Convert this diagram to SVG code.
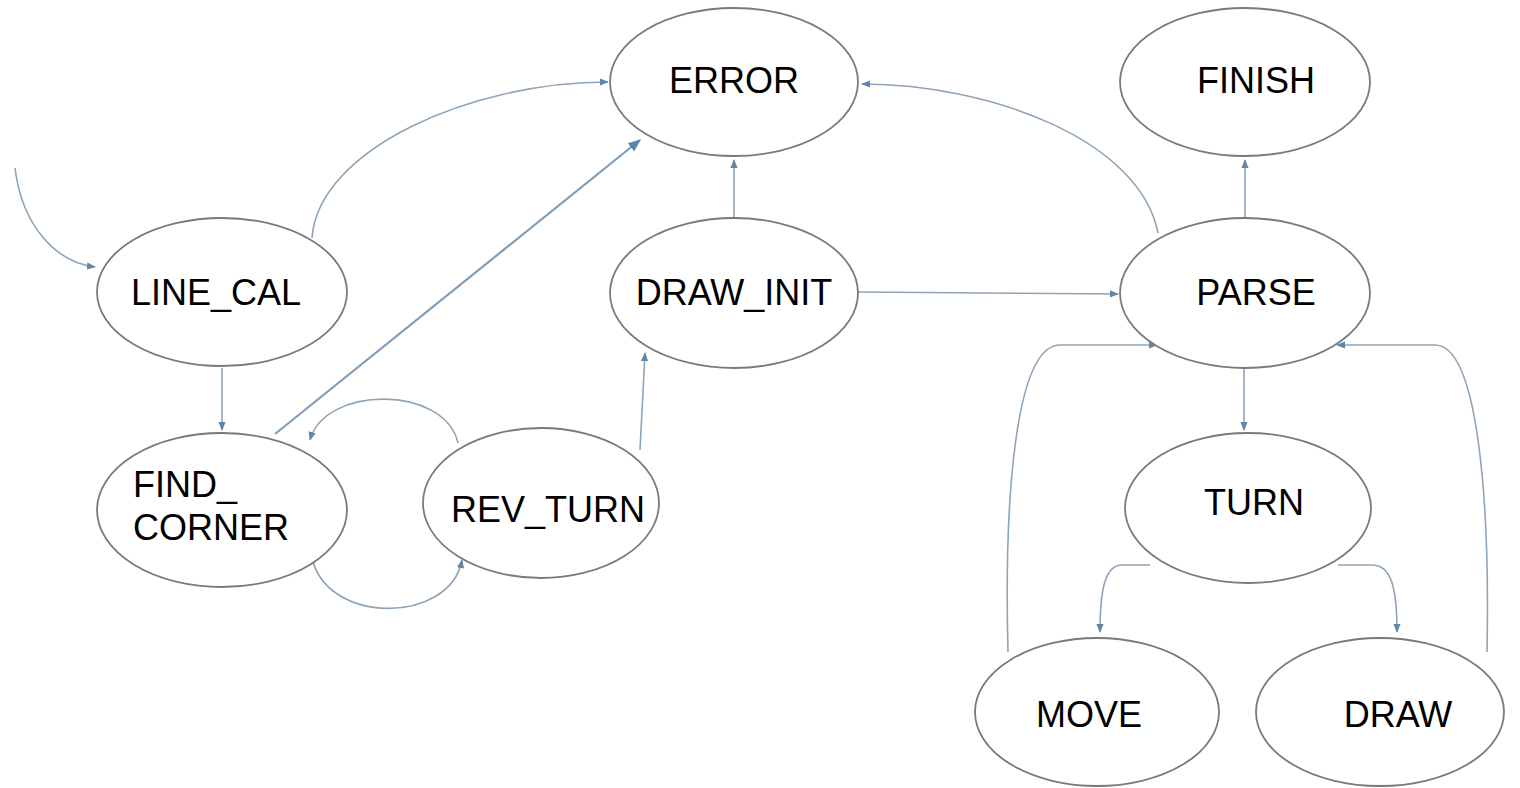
<svg xmlns="http://www.w3.org/2000/svg" width="1520" height="788" viewBox="0 0 1520 788">
<style>
.node ellipse{fill:#ffffff;stroke:#7a7a7a;stroke-width:1.8}
.node text{font-family:"Liberation Sans",Arial,sans-serif;font-size:36px;fill:#000}
.conn path{fill:none;stroke:#8ea4b8;stroke-width:1.6}
</style>
<defs>
<marker id="ah" viewBox="0 0 10 10" refX="9" refY="5" markerWidth="9" markerHeight="9" markerUnits="userSpaceOnUse" orient="auto">
<path d="M0,1 L10,5 L0,9 z" fill="#5f86a8"/>
</marker>
<marker id="ahb" viewBox="0 0 10 10" refX="9" refY="5" markerWidth="13" markerHeight="13" markerUnits="userSpaceOnUse" orient="auto">
<path d="M0,1 L10,5 L0,9 z" fill="#5f86a8"/>
</marker>
</defs>
<rect width="1520" height="788" fill="#ffffff"/>
<g class="conn">
<path d="M15 168 C22 225 55 262 95 267" marker-end="url(#ah)"/>
<path d="M312 238 C318 150 470 82 608 82" marker-end="url(#ah)"/>
<path d="M275 434 L640 140" style="stroke:#7f9db8;stroke-width:2.2" marker-end="url(#ahb)"/>
<path d="M222 368 L222 430" marker-end="url(#ah)"/>
<path d="M458 443 C445 385 325 385 310 440" marker-end="url(#ah)"/>
<path d="M312 557 C325 625 450 625 462 560" marker-end="url(#ah)"/>
<path d="M640 450 L645 353" marker-end="url(#ah)"/>
<path d="M734 218 L734 160" marker-end="url(#ah)"/>
<path d="M858 292 L1118 294" marker-end="url(#ah)"/>
<path d="M1158 233 C1140 140 990 84 862 84" marker-end="url(#ah)"/>
<path d="M1245 218 L1245 160" marker-end="url(#ah)"/>
<path d="M1244 368 L1244 430" marker-end="url(#ah)"/>
<path d="M1150 565 L1122 565 C1105 565 1100 590 1100 632" marker-end="url(#ah)"/>
<path d="M1338 565 L1372 565 C1392 565 1397 590 1397 632" marker-end="url(#ah)"/>
<path d="M1008 652 C1004 500 1015 345 1060 345 L1157 345" marker-end="url(#ah)"/>
<path d="M1487 652 C1490 500 1478 345 1435 345 L1337 345" marker-end="url(#ah)"/>
</g>
<g id="ERROR" class="node"><ellipse cx="734" cy="82" rx="124" ry="74"/><text x="734" y="93" text-anchor="middle">ERROR</text></g>
<g id="FINISH" class="node"><ellipse cx="1245" cy="82" rx="125" ry="74"/><text x="1256" y="93" text-anchor="middle">FINISH</text></g>
<g id="LINE_CAL" class="node"><ellipse cx="222" cy="292" rx="125" ry="74"/><text x="216" y="305" text-anchor="middle">LINE_CAL</text></g>
<g id="DRAW_INIT" class="node"><ellipse cx="734" cy="293" rx="124" ry="75"/><text x="734" y="305" text-anchor="middle">DRAW_INIT</text></g>
<g id="PARSE" class="node"><ellipse cx="1245" cy="293" rx="125" ry="75"/><text x="1256" y="305" text-anchor="middle">PARSE</text></g>
<g id="FIND_CORNER" class="node"><ellipse cx="222" cy="510" rx="125" ry="77"/><text x="133" y="497">FIND_</text><text x="133" y="540">CORNER</text></g>
<g id="REV_TURN" class="node"><ellipse cx="541" cy="503" rx="118" ry="75"/><text x="548" y="522" text-anchor="middle">REV_TURN</text></g>
<g id="TURN" class="node"><ellipse cx="1248" cy="508" rx="123" ry="75"/><text x="1254" y="515" text-anchor="middle">TURN</text></g>
<g id="MOVE" class="node"><ellipse cx="1097" cy="712" rx="122" ry="74"/><text x="1089" y="727" text-anchor="middle">MOVE</text></g>
<g id="DRAW" class="node"><ellipse cx="1380" cy="712" rx="124" ry="74"/><text x="1398" y="727" text-anchor="middle">DRAW</text></g>
</svg>
